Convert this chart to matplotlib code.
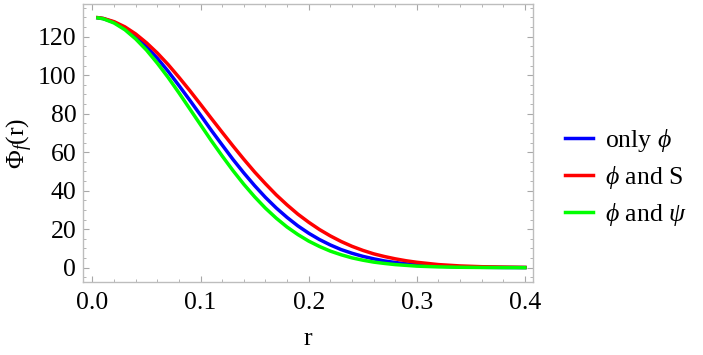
import matplotlib
matplotlib.use('Agg')
import matplotlib.pyplot as plt
from matplotlib.ticker import MultipleLocator, FormatStrFormatter

# radius values
r = [0.005, 0.01, 0.02, 0.03, 0.04, 0.05, 0.06, 0.07, 0.08, 0.09,
     0.10, 0.11, 0.12, 0.13, 0.14, 0.15, 0.16, 0.17, 0.18, 0.19,
     0.20, 0.21, 0.22, 0.23, 0.24, 0.25, 0.26, 0.27, 0.28, 0.29,
     0.30, 0.32, 0.34, 0.36, 0.38, 0.40]

only_phi = [129.8, 129.4, 127.5, 124.3, 120.1, 114.8, 108.8, 102.0, 94.6, 87.0,
            79.2, 71.3, 63.7, 56.2, 49.2, 42.6, 36.5, 31.0, 26.1, 21.7,
            17.9, 14.6, 11.8, 9.4, 7.5, 5.9, 4.6, 3.5, 2.7, 2.0,
            1.5, 0.8, 0.4, 0.2, 0.1, 0.05]

phi_and_S = [129.9, 129.5, 127.8, 125.1, 121.4, 116.8, 111.5, 105.5, 98.9, 92.0,
             84.8, 77.5, 70.3, 63.2, 56.3, 49.7, 43.6, 37.8, 32.6, 27.8,
             23.6, 19.8, 16.5, 13.6, 11.1, 9.0, 7.2, 5.8, 4.6, 3.6,
             2.8, 1.6, 0.9, 0.5, 0.3, 0.14]

phi_and_psi = [129.8, 129.3, 127.1, 123.6, 118.8, 113.0, 106.2, 98.8, 90.8, 82.5,
               74.2, 65.9, 58.0, 50.4, 43.3, 36.8, 30.9, 25.7, 21.1, 17.2,
               13.8, 11.0, 8.6, 6.7, 5.1, 3.9, 2.9, 2.2, 1.6, 1.2,
               0.8, 0.4, 0.2, 0.1, 0.04, 0.02]

plt.rcParams['font.family'] = ['Liberation Serif', 'DejaVu Serif']
plt.rcParams['mathtext.fontset'] = 'custom'
plt.rcParams['mathtext.rm'] = 'Liberation Serif'
plt.rcParams['mathtext.it'] = 'Liberation Serif:italic'
plt.rcParams['font.size'] = 18.5

fig = plt.figure(figsize=(7.03, 3.55), dpi=100)
ax = fig.add_axes([0.1185, 0.2048, 0.64, 0.784])

ax.plot(r, only_phi, color='#0000ff', lw=2.5, label=r'only $\phi$')
ax.plot(r, phi_and_S, color='#ff0000', lw=2.5, label=r'$\phi$ and S')
ax.plot(r, phi_and_psi, color='#00ff00', lw=2.5, label=r'$\phi$ and $\psi$')

ax.set_xlim(-0.0085, 0.4077)
ax.set_ylim(-7.6, 137.0)

ax.xaxis.set_major_locator(MultipleLocator(0.1))
ax.xaxis.set_minor_locator(MultipleLocator(0.02))
ax.xaxis.set_major_formatter(FormatStrFormatter('%.1f'))
ax.yaxis.set_major_locator(MultipleLocator(20))
ax.yaxis.set_minor_locator(MultipleLocator(5))

for s in ax.spines.values():
    s.set_color('#bdbdbd')
    s.set_linewidth(1.0)
ax.tick_params(which='both', direction='in', top=True, right=True, color='#a8a8a8')
ax.tick_params(which='major', length=4.2, width=0.8)
ax.tick_params(which='minor', length=2.4, width=0.6)
ax.tick_params(axis='x', which='major', pad=7)
ax.tick_params(axis='y', which='major', pad=5)

ax.set_xlabel('r', labelpad=10)
ax.set_ylabel(r'$\Phi_{f}$(r)', labelpad=2)

leg = ax.legend(loc='center left', bbox_to_anchor=(0.771, 0.5), bbox_transform=fig.transFigure,
                frameon=False, handlelength=1.1, handletextpad=0.45, labelspacing=0.4, fontsize=18.5)

fig.savefig('out.png', dpi=100)
